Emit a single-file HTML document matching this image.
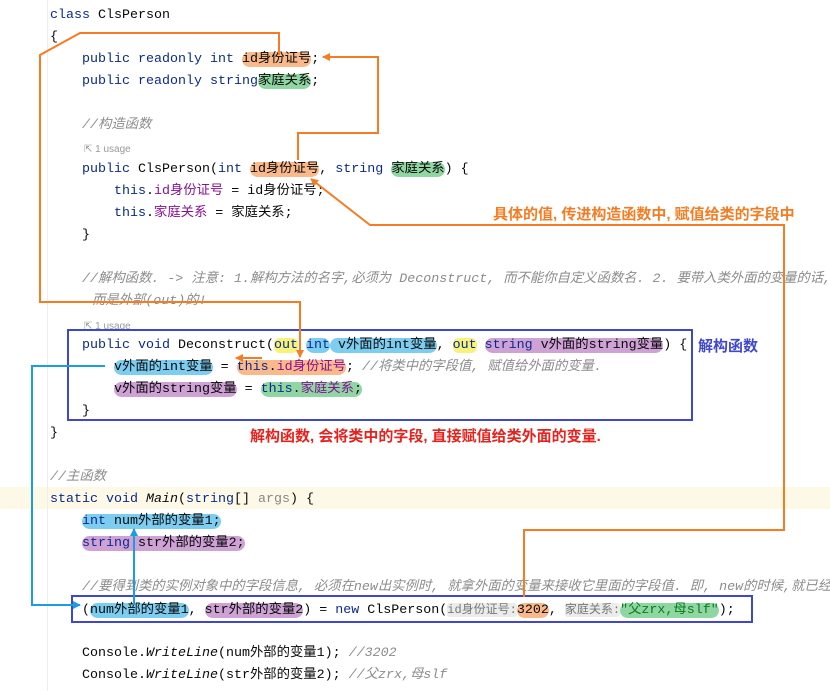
<!DOCTYPE html>
<html><head><meta charset="utf-8"><style>
body{margin:0;width:830px;height:691px;background:#fff;position:relative;overflow:hidden;font-family:"Liberation Mono","Noto Sans CJK SC",monospace;font-size:13.33px;color:#080808}
.l{position:absolute;white-space:pre;line-height:18px;height:18px}
.k{color:#0b2a8c}
.c{color:#8c8c8c;font-style:italic}
.f{color:#871094}
.u{font-family:"Liberation Sans",sans-serif;font-size:10px;color:#999}
.o{background:#f9b98a;border-radius:8px}
.g{background:#8fd6a2;border-radius:8px}
.b{background:#7dcdf0;border-radius:8px}
.p{background:#cfa2d6;border-radius:8px}
.y{background:#f7f27a;border-radius:6px}
.h{background:#ececec;color:#777;font-size:12px;border-radius:3px}
.lab{font-family:'Liberation Sans','Noto Sans CJK SC',sans-serif;font-weight:bold;font-size:15px}
</style></head><body>
<div style="position:absolute;left:0;top:487px;width:830px;height:22px;background:#fdf9e6"></div>
<div style="position:absolute;left:47px;top:0;width:1px;height:691px;background:#eee"></div>
<div style="position:absolute;left:0;top:2px">
<div class="l" style="left:50px;top:5px"><span class="k">class</span> ClsPerson</div>
<div class="l" style="left:50px;top:27px">{</div>
<div class="l" style="left:82px;top:49px"><span class="k">public readonly int</span> <span class="o">id身份证号</span>;</div>
<div class="l" style="left:82px;top:71px"><span class="k">public readonly string</span><span class="g">家庭关系</span>;</div>
<div class="l c" style="left:82px;top:115px">//构造函数</div>
<div class="l u" style="left:84px;top:139px">⇱ 1 usage</div>
<div class="l" style="left:82px;top:159px"><span class="k">public</span> ClsPerson(<span class="k">int</span> <span class="o">id身份证号</span>, <span class="k">string</span> <span class="g">家庭关系</span>) {</div>
<div class="l" style="left:114px;top:181px"><span class="k">this</span>.<span class="f">id身份证号</span> = id身份证号;</div>
<div class="l" style="left:114px;top:203px"><span class="k">this</span>.<span class="f">家庭关系</span> = 家庭关系;</div>
<div class="l" style="left:82px;top:225px">}</div>
<div class="l c" style="left:82px;top:269px">//解构函数. -&gt; 注意: 1.解构方法的名字,必须为 Deconstruct, 而不能你自定义函数名. 2. 要带入类外面的变量的话, 必</div>
<div class="l c" style="left:92px;top:291px">而是外部(out)的!</div>
<div class="l u" style="left:84px;top:316px">⇱ 1 usage</div>
<div class="l" style="left:82px;top:335px"><span class="k">public void</span> Deconstruct(<span class="y k">out</span> <span class="b k">int</span><span class="b"> v外面的int变量</span>, <span class="y k">out</span> <span class="p"><span class="k">string</span> v外面的string变量</span>) {</div>
<div class="l" style="left:114px;top:357px"><span class="b">v外面的int变量</span> = <span class="o"><span class="k">this</span>.<span class="f">id身份证号</span></span>; <span class="c">//将类中的字段值, 赋值给外面的变量.</span></div>
<div class="l" style="left:114px;top:379px"><span class="p">v外面的string变量</span> = <span class="g"><span class="k">this</span>.<span class="f">家庭关系</span>;</span></div>
<div class="l" style="left:82px;top:401px">}</div>
<div class="l" style="left:50px;top:423px">}</div>
<div class="l c" style="left:50px;top:467px">//主函数</div>
<div class="l" style="left:50px;top:489px"><span class="k">static void</span> <i>Main</i>(<span class="k">string</span>[] <span style="color:#888">args</span>) {</div>
<div class="l" style="left:82px;top:511px"><span class="b"><span class="k">int</span> num外部的变量1;</span></div>
<div class="l" style="left:82px;top:533px"><span class="p"><span class="k">string</span> str外部的变量2;</span></div>
<div class="l c" style="left:82px;top:577px">//要得到类的实例对象中的字段信息, 必须在new出实例时, 就拿外面的变量来接收它里面的字段值. 即, new的时候,就已经在</div>
<div class="l" style="left:82px;top:599px">(<span class="b">num外部的变量1</span>, <span class="p">str外部的变量2</span>) = <span class="k">new</span> ClsPerson(<span class="h">id身份证号:</span><span class="o">3202</span>, <span class="h">家庭关系:</span><span class="g" style="color:#067d17">"父zrx,母slf"</span>);</div>
<div class="l" style="left:82px;top:643px">Console.<i>WriteLine</i>(num外部的变量1); <span class="c">//3202</span></div>
<div class="l" style="left:82px;top:665px">Console.<i>WriteLine</i>(str外部的变量2); <span class="c">//父zrx,母slf</span></div>
</div>
<div class="l lab" style="left:493px;top:206px;color:#f57c22">具体的值, 传进构造函数中, 赋值给类的字段中</div>
<div class="l lab" style="left:698px;top:338px;color:#3f48cc">解构函数</div>
<div class="l lab" style="left:250px;top:428px;color:#e8211c">解构函数, 会将类中的字段, 直接赋值给类外面的变量.</div>
<svg width="830" height="691" style="position:absolute;left:0;top:0">
<defs>
<marker id="ao" markerWidth="8" markerHeight="8" refX="7" refY="4" orient="auto" markerUnits="userSpaceOnUse"><path d="M0,0 L8,4 L0,8 z" fill="#f57c22"/></marker>
<marker id="ab" markerWidth="8" markerHeight="8" refX="7" refY="4" orient="auto" markerUnits="userSpaceOnUse"><path d="M0,0 L8,4 L0,8 z" fill="#1a9ee0"/></marker>
</defs>
<g fill="none" stroke-width="2">
<rect x="68" y="330" width="624" height="90" stroke="#3f48cc"/>
<rect x="72" y="596" width="680" height="26" stroke="#3f48cc"/>
<g stroke="#f57c22">
<polyline points="279,55 279,33 80,33 40,55 40,302 300,302 300,357" marker-end="url(#ao)"/>
<polyline points="298,160 298,133 378,133 378,57 323,57" marker-end="url(#ao)"/>
<polyline points="524,597 524,530 784,530 784,225 370,225 311,179" marker-end="url(#ao)"/>
<line x1="262" y1="358" x2="236" y2="358" marker-end="url(#ao)"/>
</g>
<g stroke="#1a9ee0">
<polyline points="105,366 32,366 32,605 80,605" marker-end="url(#ab)"/>
<line x1="134" y1="605" x2="134" y2="529" marker-end="url(#ab)"/>
</g>
</g>
</svg>
</body></html>
